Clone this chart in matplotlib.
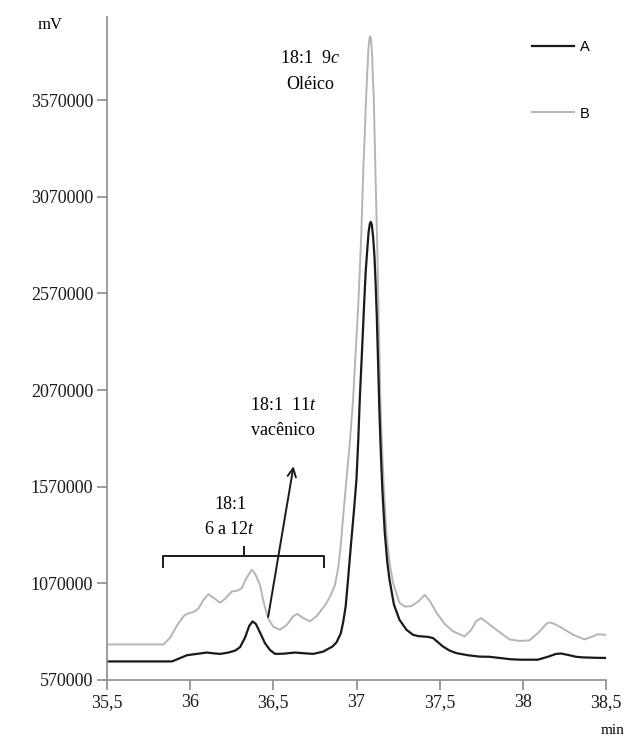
import matplotlib
matplotlib.use("Agg")
import matplotlib.pyplot as plt
from matplotlib.lines import Line2D

plt.rcParams["mathtext.fontset"] = "custom"
plt.rcParams["mathtext.rm"] = "Liberation Serif"
plt.rcParams["mathtext.it"] = "Liberation Serif:italic"

# ---- data ----
time_b = [35.50, 35.84, 35.88, 35.92, 35.96, 35.98, 36.02, 36.05, 36.08, 36.11,
          36.14, 36.18, 36.21, 36.25, 36.28, 36.31, 36.34, 36.37, 36.39, 36.42,
          36.445, 36.47, 36.50, 36.54, 36.58, 36.62, 36.645, 36.68, 36.72, 36.76,
          36.81, 36.84, 36.87, 36.89, 36.905, 36.92, 36.94, 36.96, 36.98, 36.995,
          37.01, 37.02, 37.029, 37.041, 37.05, 37.057, 37.065, 37.072, 37.078, 37.082,
          37.087, 37.093, 37.098, 37.104, 37.111, 37.118, 37.125, 37.133, 37.143, 37.152,
          37.165, 37.18, 37.198, 37.22, 37.258, 37.29, 37.33, 37.37, 37.41, 37.44,
          37.48, 37.53, 37.58, 37.65, 37.69, 37.72, 37.75, 37.78, 37.85, 37.92,
          37.98, 38.04, 38.10, 38.14, 38.16, 38.19, 38.23, 38.30, 38.37, 38.42,
          38.45, 38.50]
signal_b = [754000, 754000, 790000, 851000, 900000, 912000, 922000, 940000, 985000, 1014000,
            995000, 970000, 990000, 1028000, 1031000, 1045000, 1100000, 1140000, 1120000, 1061000,
            960000, 886000, 845000, 830000, 855000, 900000, 912000, 890000, 873500, 900000,
            956000, 1000000, 1060000, 1150000, 1264000, 1420000, 1612000, 1800000, 2030000, 2270000,
            2500000, 2700000, 2880000, 3220000, 3400000, 3570000, 3720000, 3840000, 3890000, 3900000,
            3885000, 3820000, 3700000, 3570000, 3300000, 3050000, 2800000, 2450000, 2030000, 1800000,
            1550000, 1330000, 1179000, 1070000, 970000, 950000, 952000, 975000, 1010000, 980000,
            919000, 860000, 822000, 795000, 830000, 875000, 890000, 870000, 824000, 780000,
            772000, 775000, 820000, 860000, 868000, 860000, 842000, 805000, 780000, 795000,
            807000, 803000]

time_a = [35.50, 35.89, 35.93, 35.98, 36.04, 36.10, 36.14, 36.18, 36.23, 36.27,
          36.30, 36.33, 36.355, 36.375, 36.395, 36.42, 36.45, 36.48, 36.51, 36.56,
          36.63, 36.69, 36.74, 36.80, 36.855, 36.88, 36.905, 36.92, 36.935, 36.95,
          36.966, 36.985, 37.00, 37.01, 37.02, 37.033, 37.045, 37.055, 37.065, 37.073,
          37.08, 37.086, 37.092, 37.10, 37.108, 37.115, 37.122, 37.13, 37.138, 37.146,
          37.155, 37.17, 37.185, 37.198, 37.225, 37.258, 37.30, 37.339, 37.37, 37.40,
          37.43, 37.46, 37.49, 37.52, 37.56, 37.60, 37.67, 37.74, 37.80, 37.87,
          37.93, 37.99, 38.09, 38.15, 38.20, 38.23, 38.27, 38.32, 38.36, 38.43,
          38.50]
signal_a = [666000, 666000, 680000, 698000, 705000, 712000, 708000, 705000, 712000, 722000,
            740000, 790000, 850000, 873000, 860000, 815000, 760000, 725000, 705000, 706000,
            712000, 708000, 705000, 717000, 743000, 765000, 810000, 870000, 952000, 1100000,
            1264000, 1450000, 1612000, 1800000, 2030000, 2270000, 2500000, 2680000, 2800000, 2890000,
            2930000, 2940000, 2925000, 2860000, 2760000, 2620000, 2450000, 2200000, 1950000, 1750000,
            1560000, 1330000, 1180000, 1091000, 960000, 882000, 830000, 804000, 797000, 795000,
            793000, 787000, 765000, 743000, 722000, 709000, 698000, 691000, 690000, 683000,
            677000, 675000, 675000, 690000, 705000, 707000, 700000, 690000, 687000, 685000,
            684000]

x_ticks = [35.5, 36, 36.5, 37, 37.5, 38, 38.5]
x_tick_labels = ["35,5", "36", "36,5", "37", "37,5", "38", "38,5"]
y_ticks = [570000, 1070000, 1570000, 2070000, 2570000, 3070000, 3570000]
series_labels = ["A", "B"]

# ---- figure ----
SERIF = ["Liberation Serif", "DejaVu Serif"]
SANS = ["Liberation Sans", "DejaVu Sans"]
fig = plt.figure(figsize=(6.31, 7.38), dpi=100)
ax = fig.add_axes([0.1696, 0.0786, 0.7908, 0.8984])

axis_col = "#8c8c8c"
ax.plot(time_b, signal_b, color="#b5b5b5", lw=1.4, solid_joinstyle="round")
ax.plot(time_a, signal_a, color="#1a1a1a", lw=1.6, solid_joinstyle="round")

ax.set_xlim(35.5, 38.5)
ax.set_ylim(570000, 4000000)
ax.set_xticks(x_ticks)
ax.set_xticklabels(x_tick_labels, fontfamily=SERIF, fontsize=13)
ax.set_yticks(y_ticks)
ax.set_yticklabels([str(v) for v in y_ticks], fontfamily=SERIF, fontsize=13)
for s in ["top", "right"]:
    ax.spines[s].set_visible(False)
for s in ["left", "bottom"]:
    ax.spines[s].set_color(axis_col)
    ax.spines[s].set_linewidth(1.2)
ax.tick_params(axis="both", direction="out", length=7, width=1.2, color=axis_col,
               labelcolor="#1a1a1a", pad=3)

# axis unit labels
fig.text(50 / 631, 1 - 25 / 738, "mV", fontfamily=SERIF, fontsize=12, ha="center", va="center")
fig.text(613 / 631, 1 - 730 / 738, "min", fontfamily=SERIF, fontsize=11, ha="center", va="center")

# legend
handles = [Line2D([], [], color="#1a1a1a", lw=1.6),
           Line2D([], [], color="#b5b5b5", lw=1.4)]
leg = ax.legend(handles, series_labels, loc="upper left", bbox_to_anchor=(0.825, 0.985),
                frameon=False, handlelength=2.9, handletextpad=0.4, labelspacing=3.6,
                prop={"family": SANS, "size": 10.5})

# annotations
ax.text(36.72, 3784000, "18:1  9$\\mathit{c}$", fontfamily=SERIF, fontsize=13, ha="center", va="center")
ax.text(36.72, 3653000, "Oléico", fontfamily=SERIF, fontsize=13, ha="center", va="center")

ax.text(36.56, 1990000, "18:1  11$\\mathit{t}$", fontfamily=SERIF, fontsize=13, ha="center", va="center")
ax.text(36.56, 1860000, "vacênico", fontfamily=SERIF, fontsize=13, ha="center", va="center")
ax.annotate("", xy=(36.624, 1690000), xytext=(36.466, 882500),
            arrowprops=dict(arrowstyle="->,head_length=0.6,head_width=0.3", color="#1a1a1a", lw=1.4))

ax.text(36.24, 1480000, "18:1", fontfamily=SERIF, fontsize=13, ha="center", va="center")
ax.text(36.24, 1350000, "6 a 12$\\mathit{t}$", fontfamily=SERIF, fontsize=13, ha="center", va="center")
bx0, bx1, bmid = 35.837, 36.805, 36.324
by, bend, btop = 1210600, 1153000, 1257500
ax.plot([bx0, bx0, bx1, bx1], [bend, by, by, bend], color="#1a1a1a", lw=1.4)
ax.plot([bmid, bmid], [by, btop], color="#1a1a1a", lw=1.4)

fig.savefig("out.png", dpi=100)
